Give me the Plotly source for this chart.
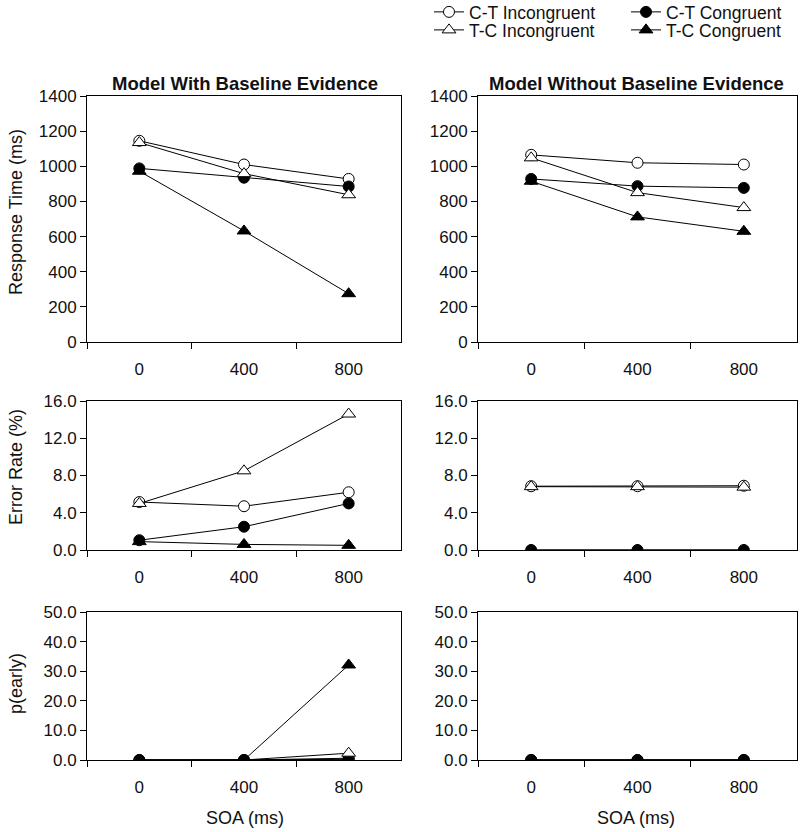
import plotly.graph_objects as go
from plotly.subplots import make_subplots

soa = ["0", "400", "800"]

# Response time (ms)
rt_with = {
    "C-T Incongruent": [1145, 1010, 928],
    "C-T Congruent": [988, 935, 885],
    "T-C Incongruent": [1135, 958, 838],
    "T-C Congruent": [972, 632, 275],
}
rt_without = {
    "C-T Incongruent": [1065, 1020, 1010],
    "C-T Congruent": [928, 887, 877],
    "T-C Incongruent": [1048, 850, 765],
    "T-C Congruent": [915, 712, 630],
}
# Error rate (%)
err_with = {
    "C-T Incongruent": [5.15, 4.7, 6.2],
    "C-T Congruent": [1.05, 2.5, 5.0],
    "T-C Incongruent": [5.0, 8.5, 14.6],
    "T-C Congruent": [0.9, 0.6, 0.5],
}
err_without = {
    "C-T Incongruent": [6.85, 6.85, 6.9],
    "C-T Congruent": [0.0, 0.0, 0.0],
    "T-C Incongruent": [6.8, 6.8, 6.75],
    "T-C Congruent": [0.0, 0.0, 0.0],
}
# p(early)
pe_with = {
    "C-T Incongruent": [0.0, 0.0, 0.6],
    "C-T Congruent": [0.0, 0.0, 0.2],
    "T-C Incongruent": [0.0, 0.0, 2.3],
    "T-C Congruent": [0.0, 0.0, 32.1],
}
pe_without = {
    "C-T Incongruent": [0.0, 0.0, 0.0],
    "C-T Congruent": [0.0, 0.0, 0.0],
    "T-C Incongruent": [0.0, 0.0, 0.0],
    "T-C Congruent": [0.0, 0.0, 0.0],
}

series_style = {
    "C-T Incongruent": dict(symbol="circle", fill="white", size=11, legend="legend"),
    "C-T Congruent": dict(symbol="circle", fill="black", size=11, legend="legend"),
    "T-C Incongruent": dict(symbol="triangle-up", fill="white", size=12, legend="legend2"),
    "T-C Congruent": dict(symbol="triangle-up", fill="black", size=12, legend="legend2"),
}
order = ["C-T Incongruent", "C-T Congruent", "T-C Incongruent", "T-C Congruent"]

W, H = 800, 832
FONT = "Liberation Sans, Arial, sans-serif"
TXT = "#111111"

fig = make_subplots(rows=3, cols=2)

panels = [
    (1, 1, rt_with), (1, 2, rt_without),
    (2, 1, err_with), (2, 2, err_without),
    (3, 1, pe_with), (3, 2, pe_without),
]
for r, c, data in panels:
    for name in order:
        st = series_style[name]
        fig.add_trace(go.Scatter(
            x=soa, y=data[name], mode="lines+markers", name=name,
            line=dict(color="black", width=1),
            marker=dict(symbol=st["symbol"], size=st["size"], color=st["fill"],
                        line=dict(color="black", width=1)),
            showlegend=(r == 1 and c == 1), legend=st["legend"],
        ), row=r, col=c)

# layout domains (pixel -> paper)
xd = {1: [87 / W, 401 / W], 2: [478 / W, 797 / W]}
yd = {1: [1 - 342 / H, 1 - 96 / H], 2: [1 - 550 / H, 1 - 401 / H], 3: [1 - 760 / H, 1 - 612 / H]}
yranges = {1: [0, 1400], 2: [0, 16], 3: [0, 50]}
ydtick = {1: 200, 2: 4, 3: 10}
yfmt = {1: "d", 2: ".1f", 3: ".1f"}

for r in (1, 2, 3):
    for c in (1, 2):
        fig.update_xaxes(row=r, col=c, domain=xd[c], type="category",
                         range=[-0.5, 2.5], tickson="boundaries",
                         ticks="outside", ticklen=6, tickwidth=1, tickcolor="black",
                         showline=True, linecolor="black", linewidth=1, mirror=True,
                         showgrid=False, zeroline=False,
                         tickfont=dict(family=FONT, size=17, color=TXT),
                         ticklabelstandoff=12)
        fig.update_yaxes(row=r, col=c, domain=yd[r], range=yranges[r], dtick=ydtick[r],
                         tick0=0, tickformat=yfmt[r],
                         ticks="outside", ticklen=6, tickwidth=1, tickcolor="black",
                         showline=True, linecolor="black", linewidth=1, mirror=True,
                         showgrid=False, zeroline=False,
                         tickfont=dict(family=FONT, size=17, color=TXT))

ann = [
    dict(text="<b>Model With Baseline Evidence</b>", x=245 / W, y=1 - 83 / H, size=18.5),
    dict(text="<b>Model Without Baseline Evidence</b>", x=636 / W, y=1 - 83 / H, size=18.5),
    dict(text="Response Time (ms)", x=16 / W, y=1 - 212 / H, textangle=-90, size=18),
    dict(text="Error Rate (%)", x=16 / W, y=1 - 467 / H, textangle=-90, size=18),
    dict(text="p(early)", x=16 / W, y=1 - 684 / H, textangle=-90, size=18),
    dict(text="SOA (ms)", x=245 / W, y=1 - 818 / H, size=18),
    dict(text="SOA (ms)", x=636 / W, y=1 - 818 / H, size=18),
]
anns = []
for a in ann:
    sz = a.pop("size")
    a.update(xref="paper", yref="paper", showarrow=False, xanchor="center", yanchor="middle",
             font=dict(family=FONT, size=sz, color=TXT))
    anns.append(a)
fig.update_layout(annotations=anns)

leg_common = dict(orientation="h", xanchor="left", yanchor="top",
                  font=dict(family=FONT, size=17.5, color=TXT),
                  bgcolor="rgba(0,0,0,0)", entrywidth=152, entrywidthmode="pixels",
                  itemclick=False, itemdoubleclick=False, tracegroupgap=0)
fig.update_layout(
    width=W, height=H,
    margin=dict(l=0, r=0, t=0, b=0, autoexpand=False),
    paper_bgcolor="white", plot_bgcolor="white",
    legend=dict(x=429 / W, y=1 + 6 / H, **leg_common),
    legend2=dict(x=429 / W, y=1 - 12 / H, **leg_common),
    font=dict(family=FONT, size=17, color=TXT),
)

fig.write_html("out.html", post_script="document.body.style.margin='0px';",
               config={"displayModeBar": False})
